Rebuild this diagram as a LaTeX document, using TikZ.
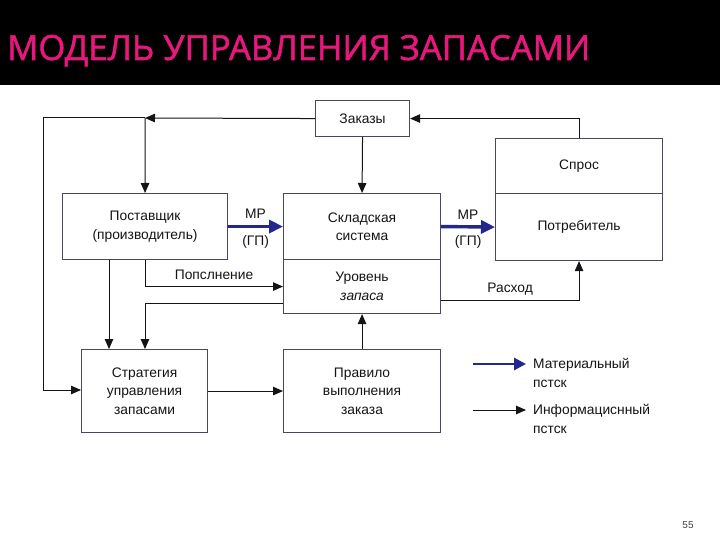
\documentclass[tikz,border=0pt]{standalone}
\usepackage{fontspec}
\setmainfont{Liberation Sans}
\newfontfamily\titlefont[FakeBold=1.6]{Open Sans}
\usetikzlibrary{arrows.meta}
\definecolor{titlepink}{RGB}{232,23,125}
\definecolor{boxline}{RGB}{70,72,100}
\definecolor{mflow}{RGB}{35,40,140}
\definecolor{txt}{RGB}{20,20,20}
\tikzset{
  box/.style={draw=boxline, line width=1.1pt, anchor=north west, inner sep=0pt,
    align=center, text=txt, font=\fontsize{13.8}{18.5}\selectfont},
  arr/.style={draw=txt, line width=1pt, -{Triangle[length=10pt,width=8.5pt]}},
  ln/.style={draw=txt, line width=1pt},
  marr/.style={draw=mflow, line width=3.4pt, -{Triangle[length=14pt,width=13pt]}},
  lbl/.style={text=txt, font=\fontsize{13.8}{18.5}\selectfont, inner sep=0pt},
}
\begin{document}
\begin{tikzpicture}[x=1pt,y=-1pt]
\useasboundingbox (0,0) rectangle (720,540);
\fill[white] (0,0) rectangle (720,540);
\fill[black] (0,0) rectangle (720,85);
\node[anchor=base west, inner sep=0pt, text=titlepink, font=\titlefont\fontsize{34.6}{36}\selectfont] (title) at (7,60) {МОДЕЛЬ УПРАВЛЕНИЯ ЗАПАСАМИ};

% boxes
\node[box, minimum width=94pt, minimum height=36pt] (zak) at (315,100) {Заказы};
\node[box, minimum width=165pt, minimum height=66pt] (post) at (62,193) {Поставщик\\(производитель)};
\node[box, minimum width=157pt, minimum height=66pt] (sklad) at (283,193) {Складская\\система};
\node[box, minimum width=157pt, minimum height=54pt] (uroven) at (283,259) {Уровень\\\textit{запаса}};
\node[box, minimum width=167pt, minimum height=55pt] (spros) at (495,138) {Спрос};
\node[box, minimum width=167pt, minimum height=67pt] (potr) at (495,193) {Потребитель};
\node[box, minimum width=126pt, minimum height=83pt] (strat) at (81,349) {Стратегия\\управления\\запасами};
\node[box, minimum width=157pt, minimum height=83pt] (prav) at (283,349) {Правило\\выполнения\\заказа};

% coordinates
\coordinate (J1) at (145,118);
\coordinate (L1) at (43,118);
\coordinate (L2) at (43,390);

% information flows
\draw[arr] (zak.west) -- (J1);
\draw[ln] (J1) -- (L1) -- (L2);
\draw[arr] (L2) -- (strat.west |- L2);
\draw[arr] (J1) -- (post.north);
\draw[arr] (zak.south) -- (sklad.north);
\draw[arr] (spros.north) |- (zak.east);
\draw[arr] (post.south) |- node[lbl, pos=0.75, above=6pt] (popl) {Попслнение} (uroven.west);
\draw[arr] ([yshift=-14pt]uroven.east) -| node[lbl, pos=0.25, above=5pt] (rash) {Расход} (potr.south);
\draw[arr] ([xshift=47pt]post.south west) -- ([xshift=28pt]strat.north west);
\draw[arr] ([yshift=-17pt]uroven.west) -| ([xshift=64pt]strat.north west);
\draw[arr] (strat.east) -- (prav.west);
\draw[arr] (prav.north) -- (uroven.south);

% material flows
\draw[marr] (post.east) -- node[lbl, above=6pt] (mp1) {МР} node[lbl, below=7pt] (gp1) {(ГП)} (sklad.west);
\draw[marr] (sklad.east) -- node[lbl, above=6pt] (mp2) {МР} node[lbl, below=7pt] (gp2) {(ГП)} (potr.west);

% legend
\coordinate (LA1) at (473,364);
\coordinate (LA2) at (526,364);
\coordinate (LB1) at (473,410);
\coordinate (LB2) at (526,410);
\draw[marr, line width=2.8pt, -{Triangle[length=12pt,width=12pt]}] (LA1) -- (LA2);
\draw[arr] (LB1) -- (LB2);
\node[lbl, anchor=west, align=left] (legA) at (533,373) {Материальный\\пстск};
\node[lbl, anchor=west, align=left] (legB) at (533,419) {Информациснный\\пстск};

\node[anchor=base, inner sep=0pt, text=black!75, font=\fontsize{10}{12}\selectfont] (pg) at (688,528) {55};
\end{tikzpicture}
\end{document}
